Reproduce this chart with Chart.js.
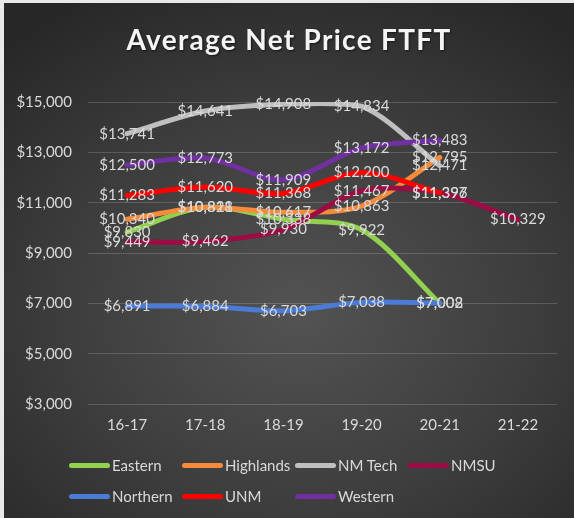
<!DOCTYPE html>
<html>
<head>
<meta charset="utf-8">
<script src="https://cdn.jsdelivr.net/npm/chart.js@4/dist/chart.umd.min.js"></script>
<style>
  html, body { margin: 0; padding: 0; background: #fff; }
  #wrap {
    position: relative; width: 574px; height: 518px; overflow: hidden;
    background: radial-gradient(ellipse 75% 70% at 52% 60%, #535353 0%, #3d3d3d 55%, #272727 100%);
  }
  #c { position: absolute; left: 0; top: 0; }
  .edgeL { position: absolute; left: 0; top: 0; width: 4px; height: 518px; background: #e9e9e9; }
  .edgeT { position: absolute; left: 0; top: 0; width: 574px; height: 3px; background: #e9e9e9; }
  #title { position: absolute; left: 0; top: 22px; width: 578px; text-align: center;
    font-family: Lato, "Open Sans", sans-serif; font-weight: bold; font-size: 28px; letter-spacing: 1.3px;
    color: #f4f4f4; text-shadow: 1px 1px 2px rgba(0,0,0,0.6); line-height: 34px; }
  #legend { position: absolute; left: 0; top: 0; width: 574px; height: 518px; pointer-events: none;
    font-family: Lato, "Open Sans", sans-serif; font-size: 15px; color: #d9d9d9; }
  .item { position: absolute; height: 20px; display: flex; align-items: center; white-space: nowrap; }
  .sw { width: 41px; height: 5px; border-radius: 3px; margin-right: 2px; }
</style>
</head>
<body>
<div id="wrap">
  <canvas id="c" width="574" height="518"></canvas>
  <div id="title">Average Net Price FTFT</div>
  <div id="legend"></div>
  <div class="edgeL"></div>
  <div class="edgeT"></div>
</div>
<script>
const categories = ["16-17", "17-18", "18-19", "19-20", "20-21", "21-22"];
const seriesNames = ["Eastern", "Highlands", "NM Tech", "NMSU", "Northern", "UNM", "Western"];
const seriesColors = ["#92d050", "#f58b3b", "#bfbfbf", "#9b0c45", "#4a7bd6", "#ff0000", "#7030a0"];
const eastern   = [9830, 10821, 10338, 9922, 7002, null];
const highlands = [10340, 10818, 10617, 10863, 12795, null];
const nmTech    = [13741, 14641, 14908, 14834, 12471, null];
const nmsu      = [9449, 9462, 9930, 11467, 11396, 10329];
const northern  = [6891, 6884, 6703, 7038, 7008, null];
const unm       = [11283, 11620, 11368, 12200, 11397, null];
const western   = [12500, 12773, 11909, 13172, 13483, null];
const seriesValues = [eastern, highlands, nmTech, nmsu, northern, unm, western];
const yTicks = [3000, 5000, 7000, 9000, 11000, 13000, 15000];

const fmt = v => "$" + v.toLocaleString("en-US");

const datasets = seriesNames.map((name, i) => ({
  label: name,
  data: seriesValues[i],
  borderColor: seriesColors[i],
  backgroundColor: seriesColors[i],
  borderWidth: 5,
  pointRadius: 0,
  pointHoverRadius: 0,
  tension: 0.3,
  spanGaps: false,
  order: seriesNames.length - i,
  borderCapStyle: "round",
  borderJoinStyle: "round"
}));

const labelPlugin = {
  id: "valueLabels",
  afterDatasetsDraw(chart) {
    const ctx = chart.ctx;
    ctx.save();
    ctx.font = "15px Lato, 'Open Sans', sans-serif";
    ctx.fillStyle = "#d9d9d9";
    ctx.textAlign = "center";
    ctx.textBaseline = "middle";
    chart.data.datasets.forEach((ds, di) => {
      const meta = chart.getDatasetMeta(di);
      meta.data.forEach((pt, j) => {
        const v = ds.data[j];
        if (v === null || v === undefined) return;
        ctx.fillText(fmt(v), pt.x, pt.y);
      });
    });
    ctx.restore();
  }
};

new Chart(document.getElementById("c"), {
  type: "line",
  data: { labels: categories, datasets },
  options: {
    responsive: false,
    animation: false,
    layout: { padding: { left: 0, right: 17, top: 102, bottom: 80 } },
    plugins: {
      legend: { display: false },
      tooltip: { enabled: false },
      title: { display: false }
    },
    scales: {
      x: {
        offset: true,
        grid: { display: false, drawTicks: false },
        border: { display: false },
        ticks: { color: "#d9d9d9", font: { family: "Lato, 'Open Sans', sans-serif", size: 15 }, padding: 12 },
        afterFit(s) { s.height = 34; }
      },
      y: {
        min: 3000, max: 15000,
        afterBuildTicks(s) { s.ticks = yTicks.map(v => ({ value: v })); },
        grid: { color: "rgba(255,255,255,0.17)", lineWidth: 1, drawTicks: false },
        border: { display: false },
        ticks: {
          color: "#d9d9d9",
          font: { family: "Lato, 'Open Sans', sans-serif", size: 15 },
          padding: 16,
          callback: v => fmt(v)
        },
        afterFit(s) { s.width = 88; }
      }
    }
  },
  plugins: [labelPlugin]
});

// legend (grid layout like the reference)
const legend = document.getElementById("legend");
const colX = [69, 182, 295, 408];
const rowY = [455, 486];
seriesNames.forEach((name, i) => {
  const row = i < 4 ? 0 : 1;
  const col = i < 4 ? i : i - 4;
  const el = document.createElement("div");
  el.className = "item";
  el.style.left = colX[col] + "px";
  el.style.top = rowY[row] + "px";
  const sw = document.createElement("div");
  sw.className = "sw";
  sw.style.background = seriesColors[i];
  const tx = document.createElement("span");
  tx.textContent = name;
  el.appendChild(sw); el.appendChild(tx);
  legend.appendChild(el);
});
</script>
</body>
</html>
